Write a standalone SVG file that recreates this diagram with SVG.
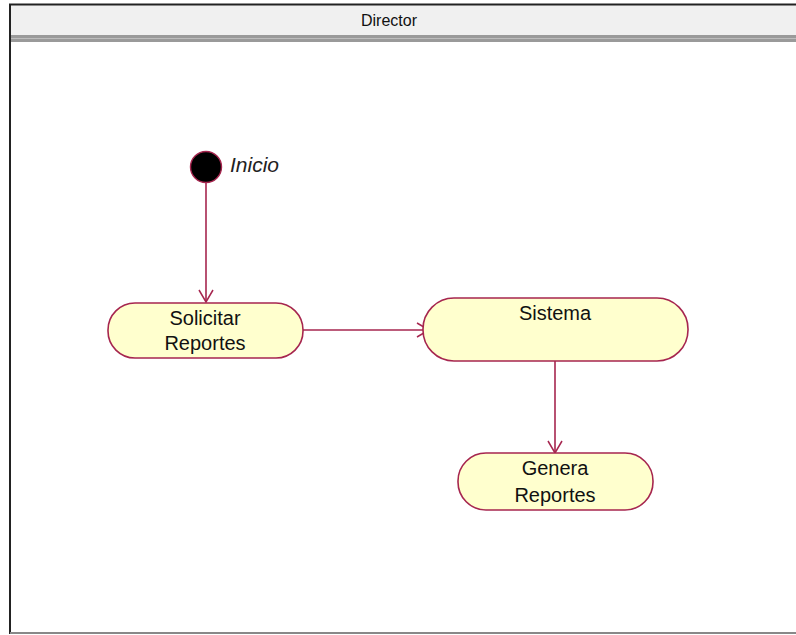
<svg xmlns="http://www.w3.org/2000/svg" width="796" height="635" viewBox="0 0 796 635">
  <style>
    .act { fill: #FFFFCE; stroke: #A6264F; stroke-width: 1.6; }
    .lbl { font-family: "Liberation Sans", Arial, sans-serif; font-size: 20px; fill: #111; text-anchor: middle; }
    .flow { stroke: #A6264F; stroke-width: 1.6; fill: none; marker-end: url(#open); }
  </style>
  <defs>
    <marker id="open" markerUnits="userSpaceOnUse" markerWidth="20" markerHeight="20" refX="13" refY="8" orient="auto">
      <path d="M1,1 L13,8 L1,15" fill="none" stroke="#A6264F" stroke-width="1.5"/>
    </marker>
  </defs>

  <rect width="796" height="635" fill="#ffffff"/>

  <!-- swimlane frame -->
  <g id="lane">
    <rect x="10" y="5" width="790" height="31" fill="#F0F0F0"/>
    <rect x="10" y="35" width="790" height="7" fill="#9A9A9A"/>
    <line x1="10" y1="38.5" x2="796" y2="38.5" stroke="#BDBDBD" stroke-width="1"/>
    <line x1="9" y1="4.5" x2="796" y2="4.5" stroke="#222" stroke-width="2"/>
    <line x1="10" y1="4" x2="10" y2="634" stroke="#222" stroke-width="2"/>
    <line x1="10" y1="633" x2="796" y2="633" stroke="#888" stroke-width="2"/>
    <text x="389" y="26" font-family="Liberation Sans, Arial, sans-serif" font-size="16" fill="#111" text-anchor="middle">Director</text>
  </g>

  <!-- connectors -->
  <g id="connectors">
    <line class="flow" x1="206" y1="183" x2="206" y2="302"/>
    <line class="flow" x1="303" y1="330" x2="429" y2="330"/>
    <line class="flow" x1="555" y1="361" x2="555" y2="453"/>
  </g>

  <g id="start">
    <circle cx="206" cy="167" r="15.5" fill="#000" stroke="#A6264F" stroke-width="1.4"/>
    <text x="230" y="172" font-family="Liberation Sans, Arial, sans-serif" font-size="21" font-style="italic" fill="#222">Inicio</text>
  </g>

  <g id="solicitar">
    <rect class="act" x="108" y="303" width="195" height="55" rx="27" ry="27"/>
    <text class="lbl" x="205" y="325">Solicitar</text>
    <text class="lbl" x="205" y="350">Reportes</text>
  </g>

  <g id="sistema">
    <rect class="act" x="423" y="298" width="265" height="63" rx="31" ry="31"/>
    <text class="lbl" x="555" y="320">Sistema</text>
  </g>

  <g id="genera">
    <rect class="act" x="458" y="453" width="195" height="57" rx="28" ry="28"/>
    <text class="lbl" x="555" y="475">Genera</text>
    <text class="lbl" x="555" y="502">Reportes</text>
  </g>
</svg>
